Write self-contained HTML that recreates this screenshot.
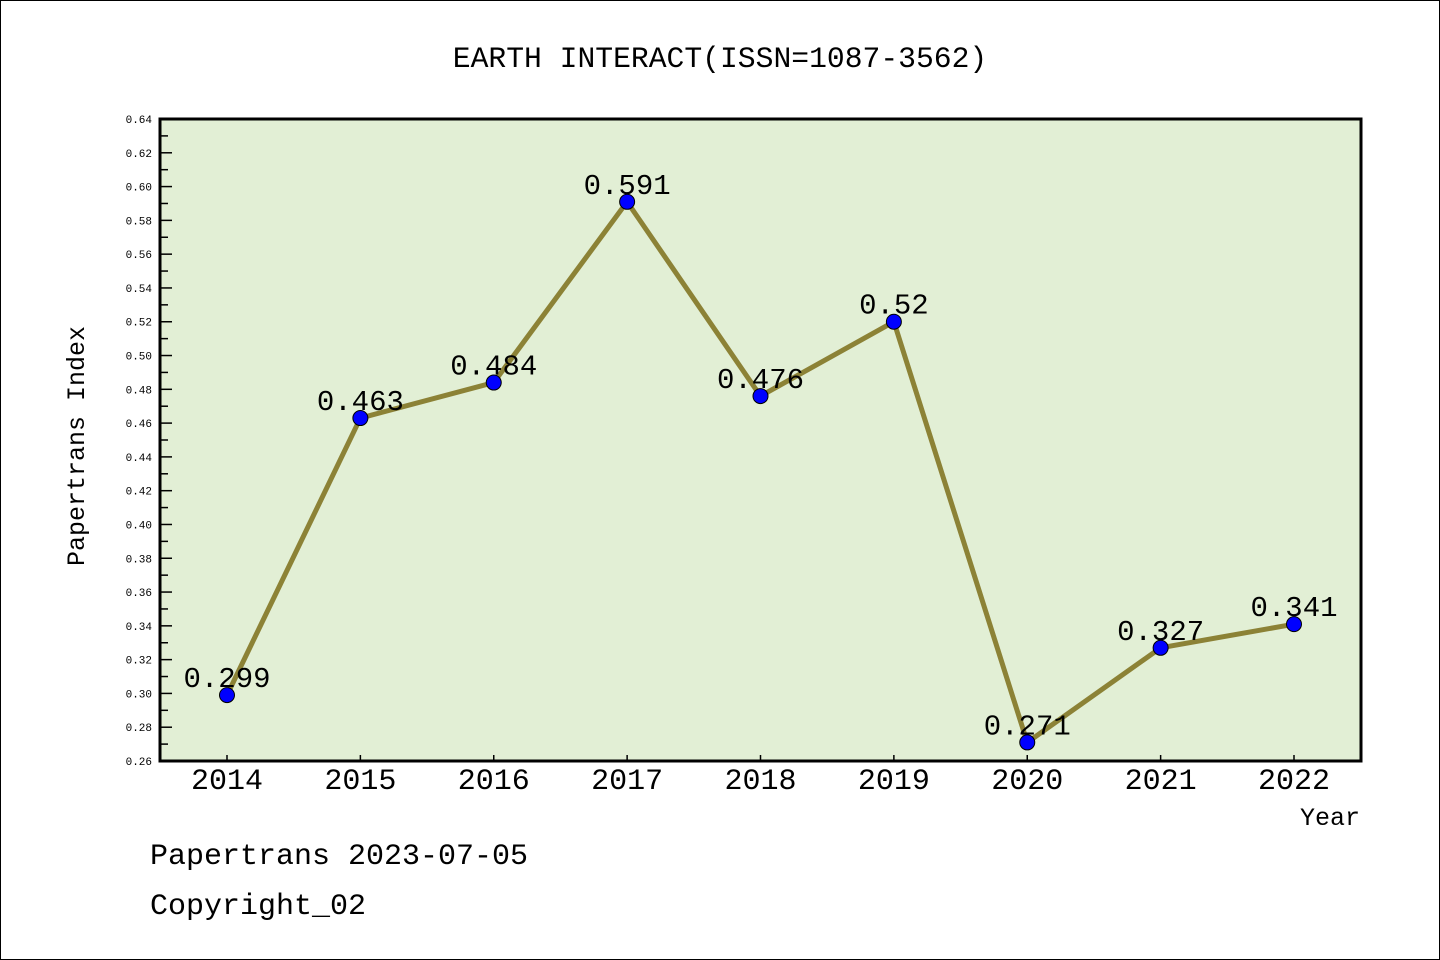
<!DOCTYPE html>
<html><head><meta charset="utf-8"><style>
html,body{margin:0;padding:0;background:#fff}
svg{display:block}
text{font-family:"Liberation Mono","DejaVu Sans Mono",monospace}
</style></head><body>
<svg id="chart" width="1440" height="960" viewBox="0 0 1440 960">
<rect x="0.5" y="0.5" width="1439" height="959" fill="#fff" stroke="#000"/>
<text x="720" y="67" font-size="29.7" text-anchor="middle">EARTH INTERACT(ISSN=1087-3562)</text>
<rect x="160" y="119" width="1201" height="642" fill="#e2efd5"/>
<g id="axes"></g>
<g id="series"></g>
<rect x="160" y="119" width="1201" height="642" fill="none" stroke="#000" stroke-width="3"/>
<text x="84" y="446" font-size="25" text-anchor="middle" transform="rotate(-90 84 446)">Papertrans Index</text>
<text x="1360" y="825" font-size="25" text-anchor="end">Year</text>
<text x="150" y="864" font-size="30">Papertrans 2023-07-05</text>
<text x="150" y="914" font-size="30">Copyright_02</text>
</svg>
<script>
const years = ["2014","2015","2016","2017","2018","2019","2020","2021","2022"];
const values = [0.299,0.463,0.484,0.591,0.476,0.52,0.271,0.327,0.341];
const valueLabels = ["0.299","0.463","0.484","0.591","0.476","0.52","0.271","0.327","0.341"];
const yTicks = [0.26,0.28,0.30,0.32,0.34,0.36,0.38,0.40,0.42,0.44,0.46,0.48,0.50,0.52,0.54,0.56,0.58,0.60,0.62,0.64];
const NS="http://www.w3.org/2000/svg";
const L=160,R=1361,T=119,B=761,yMin=0.26,yMax=0.64;
const yS=v=>B-(v-yMin)/(yMax-yMin)*(B-T);
const xS=i=>227+i*(1294-227)/(years.length-1);
function mk(tag,attrs,parent){const e=document.createElementNS(NS,tag);for(const k in attrs)e.setAttribute(k,attrs[k]);parent.appendChild(e);return e;}
const ax=document.getElementById('axes'), sr=document.getElementById('series');
yTicks.forEach((v,i)=>{
  const y=yS(v);
  const t=mk('line',{x1:L,x2:L+12,y1:y,y2:y,stroke:'#000','stroke-width':1.5},ax);
  
  
  const lb=mk('text',{x:152,y:y+4,'font-size':11,'text-anchor':'end','font-family':'Liberation Sans, sans-serif'},ax);
  lb.textContent=v.toFixed(2);
  
  
  if(i<yTicks.length-1){
    const ym=yS(v+0.01);
    const m=mk('line',{x1:L,x2:L+8,y1:ym,y2:ym,stroke:'#000','stroke-width':1.5},ax);
    
    
  }
});
years.forEach((yr,i)=>{
  const x=xS(i);
  const t=mk('line',{x1:x,x2:x,y1:B,y2:B-6,stroke:'#000','stroke-width':1.5},ax);
  
  
  const lb=mk('text',{x:x,y:789,'font-size':30,'text-anchor':'middle'},ax);
  lb.textContent=yr;
  
  
});
const pts=values.map((v,i)=>xS(i)+','+yS(v)).join(' ');
const pl=mk('polyline',{points:pts,fill:'none',stroke:'#8c8236','stroke-width':5,'stroke-linejoin':'round'},sr);


values.forEach((v,i)=>{
  const c=mk('circle',{cx:xS(i),cy:yS(v),r:7.5,fill:'#0000ff',stroke:'#000','stroke-width':1},sr);
  
  
  const t=mk('text',{x:xS(i),y:yS(v)-8,'font-size':29,'text-anchor':'middle'},sr);
  t.textContent=valueLabels[i];
  
  
});
</script>
</body></html>
